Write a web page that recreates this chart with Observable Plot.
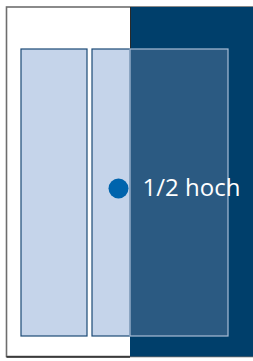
<!DOCTYPE html>
<html>
<head>
<meta charset="utf-8">
<script src="https://cdn.jsdelivr.net/npm/d3@7"></script>
<script src="https://cdn.jsdelivr.net/npm/@observablehq/plot@0.6"></script>
<style>
html,body{margin:0;padding:0;background:#fff;}
</style>
</head>
<body>
<div id="chart"></div>
<script>
// Diagram parts (positions in the diagram's own units)
const frameX = [6.5, 262];
const frameY = [7, 356.5];
const panelX = [130, 253];
const panelY = [7, 356.5];
const columnNames = ["links", "mitte-links", "mitte-rechts"];
const columnX1 = [21, 92, 130];
const columnX2 = [87, 130, 228];
const columnY1 = [49, 49, 49];
const columnY2 = [336, 336, 336];
const columnFill = ["#c5d4ea", "#c5d4ea", "#2b5a82"];
const columnStroke = ["#1b4a76", "#1b4a76", "#a9bdd6"];
const markerX = [118];
const markerY = [188];
const labelText = ["1/2 hoch"];

const columns = columnNames.map((n, i) => ({
  name: n, x1: columnX1[i], x2: columnX2[i], y1: columnY1[i], y2: columnY2[i],
  fill: columnFill[i], stroke: columnStroke[i]
}));

const chart = Plot.plot({
  width: 253,
  height: 361,
  margin: 0,
  x: {domain: [0, 253], range: [0, 253], axis: null},
  y: {domain: [0, 361], range: [0, 361], axis: null},
  style: {background: "#fff"},
  marks: [
    Plot.rect([{x1: frameX[0], x2: frameX[1], y1: frameY[0], y2: frameY[1]}],
      {x1: "x1", x2: "x2", y1: "y1", y2: "y2", fill: "#fff", stroke: "#6e6e6e", strokeWidth: 1.6}),
    Plot.rect([{x1: panelX[0], x2: panelX[1], y1: panelY[0], y2: panelY[1]}],
      {x1: "x1", x2: "x2", y1: "y1", y2: "y2", fill: "#003f6b"}),
    Plot.ruleY([frameY[1]], {x1: frameX[0], x2: panelX[0], stroke: "#2a2a2a", strokeWidth: 1.6}),
    Plot.ruleX([panelX[0]], {y1: frameY[0], y2: columnY1[0], stroke: "#2a2a2a", strokeWidth: 1}),
    Plot.rect(columns, {
      x1: "x1", x2: "x2", y1: "y1", y2: "y2",
      fill: d => d.fill, stroke: d => d.stroke, strokeWidth: 1.2
    }),
    Plot.dot(markerX.map((x, i) => ({x, y: markerY[i]})),
      {x: "x", y: "y", r: 10, fill: "#0064ad", stroke: "none"}),
    Plot.text(labelText.map((t, i) => ({t, x: markerX[i] + 24, y: markerY[i]})),
      {x: "x", y: "y", text: "t", textAnchor: "start", fill: "#fff",
       fontSize: 24, fontFamily: "Open Sans", dy: 0})
  ]
});
document.getElementById("chart").appendChild(chart);
</script>
</body>
</html>
